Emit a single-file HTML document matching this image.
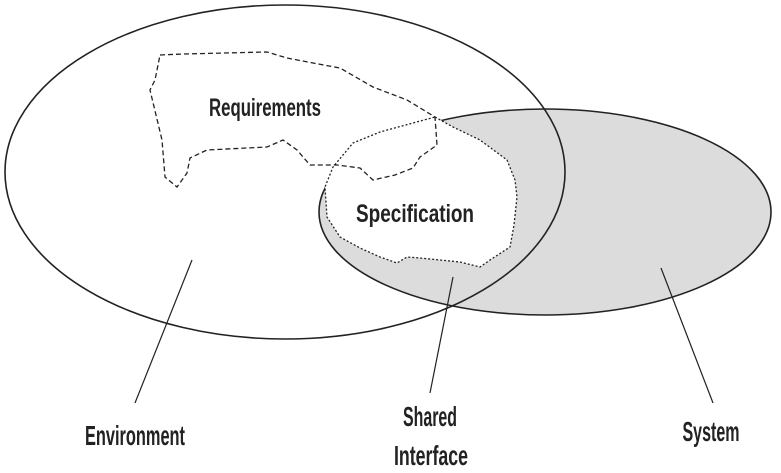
<!DOCTYPE html>
<html><head><meta charset="utf-8"><style>
html,body{margin:0;padding:0;background:#fff;}
svg{display:block;}
text{font-family:"Liberation Sans Narrow","Liberation Sans",sans-serif;font-weight:bold;fill:#222;}
</style></head><body>
<svg width="781" height="473" viewBox="0 0 781 473" xmlns="http://www.w3.org/2000/svg">
<ellipse cx="545" cy="212" rx="226" ry="103" fill="#dcdcdc" stroke="#222" stroke-width="1.6"/>
<ellipse cx="285" cy="172" rx="280" ry="167" fill="none" stroke="#222" stroke-width="1.6"/>
<path d="M435,117 L453,127 L480,140 L507,160 L515,180 L517,197 L514,225 L510,247 L490,260 L480,267 L460,262 L440,260 L420,258 L407,257 L397,263 L380,257 L360,248 L340,237 L327,217 L325,187 L333,167 L353,143 L380,132 Z" fill="#fff" stroke="#222" stroke-width="1.3" stroke-dasharray="2,2"/>
<path d="M160,55 L183,54 L267,52 L287,58 L313,63 L340,68 L373,87 L407,100 L435,117 L437,145 L420,157 L413,168 L395,175 L373,180 L360,168 L337,165 L310,165 L297,150 L283,140 L267,147 L207,150 L190,158 L187,173 L177,187 L165,177 L162,140 L150,90 L155,80 Z" fill="none" stroke="#222" stroke-width="1.3" stroke-dasharray="5,3"/>
<text x="265" y="116" font-size="25" text-anchor="middle" textLength="112" lengthAdjust="spacingAndGlyphs">Requirements</text>
<text x="415" y="222" font-size="25" text-anchor="middle" textLength="118" lengthAdjust="spacingAndGlyphs">Specification</text>
<line x1="192" y1="260" x2="135" y2="403" stroke="#222" stroke-width="1.2"/>
<line x1="453" y1="277" x2="430" y2="393" stroke="#222" stroke-width="1.2"/>
<line x1="661" y1="268" x2="713" y2="403" stroke="#222" stroke-width="1.2"/>
<text x="135" y="445" font-size="28" text-anchor="middle" textLength="100" lengthAdjust="spacingAndGlyphs">Environment</text>
<text x="430" y="426" font-size="28" text-anchor="middle" textLength="54" lengthAdjust="spacingAndGlyphs">Shared</text>
<text x="431" y="465" font-size="28" text-anchor="middle" textLength="74" lengthAdjust="spacingAndGlyphs">Interface</text>
<text x="711" y="441" font-size="28" text-anchor="middle" textLength="57" lengthAdjust="spacingAndGlyphs">System</text>
</svg>
</body></html>
